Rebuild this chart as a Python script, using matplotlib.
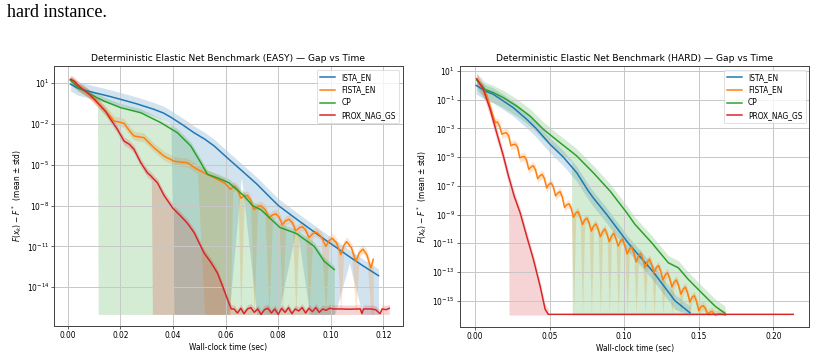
import numpy as np
import matplotlib
matplotlib.use('Agg')
import matplotlib.pyplot as plt

# gap values are log10(F(x_k) - F*)
FLOOR = -16.0
names = ['ISTA_EN', 'FISTA_EN', 'CP', 'PROX_NAG_GS']
colors = ['C0', 'C1', 'C2', 'C3']

# ---------------- EASY instance ----------------
easy_ista_t = [0.0011, 0.004, 0.0075, 0.012, 0.016, 0.020, 0.026, 0.0328, 0.0365, 0.0392,
               0.0404, 0.044, 0.048, 0.052, 0.0557, 0.0613, 0.066, 0.0718, 0.0772, 0.0801,
               0.087, 0.092, 0.097, 0.1015, 0.107, 0.112, 0.1181]
easy_ista_m = [0.93, 0.62, 0.43, 0.22, 0.03, -0.18, -0.5, -0.92, -1.2, -1.5,
               -1.65, -2.1, -2.64, -3.1, -3.62, -4.6, -5.4, -6.4, -7.45, -8.0,
               -9.0, -9.7, -10.4, -11.0, -11.75, -12.4, -13.15]
easy_ista_floor = [(0.0404, 0.0613), (0.0718, 0.0801), (0.092, 0.1015), (0.112, 0.1181)]

easy_fista_t = [0.0014, 0.004, 0.0075, 0.011, 0.0138, 0.0165, 0.0176, 0.0195, 0.0214, 0.0235,
                0.0252, 0.0272, 0.029, 0.031, 0.0328, 0.0366, 0.0404, 0.043, 0.0455, 0.0493,
                0.052, 0.0544, 0.0582, 0.0600,
                0.0618, 0.0627, 0.0636, 0.0647, 0.0658, 0.0670, 0.0683, 0.0695, 0.0708, 0.0721,
                0.0734, 0.0750, 0.0765, 0.0778, 0.0791, 0.0803, 0.0816, 0.0828, 0.0841, 0.0854,
                0.0867, 0.0879, 0.0892, 0.0904, 0.0917, 0.0931, 0.0945, 0.0963, 0.0981, 0.0993,
                0.1006, 0.1022, 0.1038, 0.1049, 0.1060, 0.1078, 0.1095, 0.1108, 0.1122, 0.1137,
                0.1152, 0.1161]
easy_fista_m = [1.17, 0.75, 0.31, -0.4, -0.92, -1.5, -1.78, -1.85, -1.95, -2.5,
                -2.88, -2.95, -3.0, -3.4, -3.74, -4.36, -4.73, -4.8, -4.85, -5.34,
                -5.6, -5.83, -6.2, -6.4,
                -6.8, -6.66, -6.6, -6.86, -7.45, -7.31, -7.25, -7.57, -8.3, -8.09,
                -8.0, -8.27, -8.9, -8.69, -8.6, -8.84, -9.4, -9.12, -9.0, -9.26,
                -9.85, -9.64, -9.55, -9.79, -10.35, -10.07, -9.95, -10.27, -11.0, -10.58,
                -10.4, -10.76, -11.6, -10.94, -10.65, -11.09, -12.1, -11.47, -11.2, -11.62,
                -12.6, -11.95]
easy_fista_floor = [(0.052, 0.0618), (0.0658, 0.0658), (0.0708, 0.0708), (0.0765, 0.0765),
                    (0.0816, 0.0816), (0.0867, 0.0867), (0.0917, 0.0917), (0.0981, 0.0981),
                    (0.1038, 0.1038), (0.1095, 0.1095), (0.1152, 0.1161)]

easy_cp_t = [0.0009, 0.004, 0.0075, 0.0113, 0.0116, 0.0138, 0.0202, 0.0278, 0.0354, 0.0417,
             0.0468, 0.0506, 0.0531, 0.0569, 0.0613, 0.0671, 0.0702, 0.0734, 0.0806, 0.0869,
             0.0937, 0.0975, 0.1013]
easy_cp_m = [1.24, 0.7, 0.31, -0.08, -0.1, -0.31, -0.8, -1.17, -1.9, -2.64,
             -3.62, -4.85, -5.7, -5.96, -6.32, -7.3, -8.0, -8.3, -9.6, -10.05,
             -11.0, -12.1, -12.7]
easy_cp_floor = [(0.0116, 0.1013)]

easy_prox_t = [0.0011, 0.0025, 0.0045, 0.0075, 0.0100, 0.0125, 0.0145, 0.0163, 0.0189, 0.0214,
               0.0235, 0.0252, 0.0278, 0.0303, 0.0318, 0.0322, 0.0341, 0.0366, 0.040, 0.043,
               0.0455, 0.0481, 0.0518, 0.0545, 0.0569, 0.059, 0.0613, 0.0622,
               0.0632, 0.0645, 0.0658, 0.0670, 0.0683, 0.0696, 0.0709, 0.0722, 0.0735, 0.0748,
               0.0761, 0.0774, 0.0787, 0.0800, 0.0813, 0.0826, 0.0839, 0.0852, 0.0865, 0.0878,
               0.0891, 0.0904, 0.0917, 0.0930, 0.0943, 0.0956, 0.0969, 0.0982, 0.0995, 0.1010,
               0.1040, 0.1070, 0.1100, 0.1112, 0.1118, 0.1124, 0.1150, 0.1170, 0.1187, 0.1195,
               0.1210, 0.1222]
easy_prox_m = [1.3, 1.15, 0.75, 0.31, -0.15, -0.67, -1.1, -1.65, -2.39, -3.25,
               -3.5, -3.86, -4.85, -5.59, -5.85, -5.95, -6.32, -7.25, -8.2, -8.78,
               -9.3, -10.0, -11.48, -12.2, -12.96, -14.0, -15.2, -15.6,
               -15.6, -15.9, -15.55, -15.95, -15.6, -15.5, -15.85, -15.6, -16.0, -15.65,
               -15.55, -15.9, -15.6, -16.0, -15.55, -15.85, -15.5, -15.95, -15.6, -15.75,
               -15.5, -15.9, -15.55, -15.8, -15.5, -15.85, -15.6, -15.7, -15.55, -15.6,
               -15.6, -15.62, -15.6, -15.6, -15.95, -15.6, -15.6, -15.65, -15.95, -15.6,
               -15.65, -15.55]
easy_prox_floor = [(0.0322, 0.1222)]

easy_up = [0.5, 0.35, 0.3, 0.3]
easy_down = [0.5, 0.3, 0.3, 0.3]

# ---------------- HARD instance ----------------
hard_ista_t = [0.0007, 0.0067, 0.0123, 0.019, 0.0257, 0.0347, 0.0409, 0.0503, 0.0592, 0.0682,
               0.0759, 0.079, 0.0883, 0.1028, 0.1195, 0.134, 0.1441]
hard_ista_m = [0.0, -0.39, -0.63, -1.09, -1.56, -2.37, -3.0, -4.11, -5.0, -6.09,
               -7.35, -7.8, -9.0, -11.0, -13.0, -15.0, -15.84]
hard_ista_floor = []

hard_fista_t = [0.0016, 0.0045, 0.0078, 0.0105, 0.0125, 0.0138, 0.0150, 0.0165,
                0.0180, 0.0195, 0.0210, 0.0225, 0.0240, 0.0255, 0.0270, 0.0285, 0.0300, 0.0315,
                0.0330, 0.0345, 0.0360, 0.0375, 0.0390, 0.0405, 0.0420, 0.0435, 0.0450, 0.0465,
                0.0480, 0.0495, 0.0510, 0.0525, 0.0540, 0.0555, 0.0570, 0.0585, 0.0600, 0.0615,
                0.0630, 0.0645, 0.0660, 0.0675, 0.0690, 0.0705, 0.0720, 0.0735, 0.0750, 0.0765,
                0.0780, 0.0795, 0.0810, 0.0825, 0.0840, 0.0855, 0.0870, 0.0885, 0.0900, 0.0915,
                0.0930, 0.0945, 0.0960, 0.0975, 0.0990, 0.1005, 0.1020, 0.1035, 0.1050, 0.1065,
                0.1080, 0.1095, 0.1110, 0.1125, 0.1140, 0.1155, 0.1170, 0.1185, 0.1200, 0.1215,
                0.1230, 0.1245, 0.1260, 0.1275, 0.1290, 0.1305, 0.1320, 0.1335, 0.1350, 0.1365,
                0.1380, 0.1395, 0.1410, 0.1425, 0.1440, 0.1455, 0.1470, 0.1485, 0.1500, 0.1515,
                0.1530, 0.1545, 0.1560, 0.1575, 0.1590, 0.1610, 0.1640, 0.1680]
hard_fista_m = [0.37, -0.1, -0.7, -1.6, -2.3, -2.6, -2.55, -2.85,
                -3.4, -3.33, -3.3, -3.5, -4.2, -4.13, -4.1, -4.3, -5.05, -4.98,
                -4.95, -5.2, -5.85, -5.69, -5.6, -5.87, -6.5, -6.3, -6.2, -6.49,
                -7.15, -6.9, -6.8, -7.07, -7.7, -7.5, -7.4, -7.77, -8.5, -8.32,
                -8.25, -8.57, -9.2, -8.9, -8.8, -9.17, -9.7, -9.37, -9.25, -9.6,
                -10.15, -9.8, -9.65, -10.0, -10.55, -10.2, -10.0, -10.36, -10.9, -10.5,
                -10.3, -10.7, -11.2, -10.85, -10.7, -11.2, -11.75, -11.4, -11.25, -11.7,
                -12.3, -11.9, -11.7, -12.1, -12.7, -12.3, -12.1, -12.5, -13.05, -12.7,
                -12.55, -12.95, -13.55, -13.2, -13.05, -13.45, -14.05, -13.7, -13.55, -13.95,
                -14.55, -14.2, -14.05, -14.45, -15.1, -14.75, -14.65, -15.05, -15.7, -15.42,
                -15.35, -15.55, -15.95, -15.8, -15.75, -16.0, -15.9, -16.0]
hard_fista_floor = [(0.066, 0.066), (0.072, 0.072), (0.078, 0.078), (0.084, 0.084),
                    (0.090, 0.090), (0.096, 0.096), (0.102, 0.102), (0.108, 0.108),
                    (0.114, 0.114), (0.120, 0.120), (0.126, 0.126), (0.132, 0.132),
                    (0.138, 0.138), (0.144, 0.144), (0.150, 0.150), (0.156, 0.168)]

hard_cp_t = [0.0011, 0.0067, 0.0123, 0.019, 0.0279, 0.0369, 0.0458, 0.057, 0.0646, 0.0652,
             0.0682, 0.0793, 0.0905, 0.1017, 0.1072, 0.1184, 0.1296, 0.1363, 0.143, 0.1519,
             0.1609, 0.1676]
hard_cp_m = [0.37, -0.28, -0.51, -0.86, -1.44, -2.14, -3.06, -4.0, -4.62, -4.67,
             -4.92, -6.09, -7.36, -8.87, -9.68, -10.96, -12.36, -12.71, -13.52, -14.45,
             -15.38, -15.88]
hard_cp_floor = [(0.0652, 0.1676)]

hard_prox_t = [0.0011, 0.0056, 0.0101, 0.0145, 0.019, 0.0224, 0.0228, 0.0262, 0.0302, 0.0346,
               0.0391, 0.0436, 0.047, 0.0491, 0.08, 0.12, 0.16, 0.2133]
hard_prox_m = [0.47, -0.28, -1.67, -3.3, -4.92, -6.32, -6.45, -7.71, -8.87, -10.5,
               -12.12, -13.98, -15.6, -15.95, -15.95, -15.95, -15.95, -15.95]
hard_prox_floor = [(0.0228, 0.0491)]
hard_prox_band_end = 0.0491

hard_up = [0.45, 0.3, 0.5, 0.35]
hard_down = [0.6, 0.3, 0.7, 0.5]


def draw_run(ax, t, m, up, down, floor_spans, color, label, band_end=None):
    t = np.asarray(t, dtype=float)
    m = np.asarray(m, dtype=float)
    lo = m - down
    for a, b in floor_spans:
        lo[(t >= a - 1e-9) & (t <= b + 1e-9)] = FLOOR
    lo = np.maximum(lo, FLOOR)
    hi = m + up
    keep = t <= (band_end if band_end is not None else t.max()) + 1e-9
    ax.fill_between(t[keep], 10.0 ** lo[keep], 10.0 ** hi[keep],
                    color=color, alpha=0.2, linewidth=0)
    ax.plot(t, 10.0 ** m, color=color, label=label, linewidth=2.0)


fig = plt.figure(figsize=(15, 6.5625), dpi=54.4)
fig.text(0.0085, 1 - 17.3 / 357, 'hard instance.', family='Liberation Serif',
         fontsize=23.8, va='baseline')

ax1 = fig.add_axes([0.0665, 0.0877, 0.4270, 0.7275])
ax2 = fig.add_axes([0.5637, 0.0849, 0.4281, 0.7303])

easy = [(easy_ista_t, easy_ista_m, easy_ista_floor),
        (easy_fista_t, easy_fista_m, easy_fista_floor),
        (easy_cp_t, easy_cp_m, easy_cp_floor),
        (easy_prox_t, easy_prox_m, easy_prox_floor)]
hard = [(hard_ista_t, hard_ista_m, hard_ista_floor),
        (hard_fista_t, hard_fista_m, hard_fista_floor),
        (hard_cp_t, hard_cp_m, hard_cp_floor),
        (hard_prox_t, hard_prox_m, hard_prox_floor)]

for ax in (ax1, ax2):
    ax.set_yscale('log')

for i, (t, m, fl) in enumerate(easy):
    draw_run(ax1, t, m, easy_up[i], easy_down[i], fl, colors[i], names[i])
for i, (t, m, fl) in enumerate(hard):
    end = hard_prox_band_end if names[i] == 'PROX_NAG_GS' else None
    draw_run(ax2, t, m, hard_up[i], hard_down[i], fl, colors[i], names[i], band_end=end)

ax1.set_xlim(-0.0051, 0.1273)
ax1.set_ylim(10 ** -16.83, 10 ** 2.27)
ax1.set_xticks([0.0, 0.02, 0.04, 0.06, 0.08, 0.10, 0.12])
ax1.set_yticks([10.0 ** k for k in range(1, -15, -3)])
ax1.set_title('Deterministic Elastic Net Benchmark (EASY) — Gap vs Time')

ax2.set_xlim(-0.0101, 0.2241)
ax2.set_ylim(10 ** -16.81, 10 ** 1.35)
ax2.set_xticks([0.0, 0.05, 0.10, 0.15, 0.20])
ax2.set_yticks([10.0 ** k for k in range(1, -16, -2)])
ax2.set_title('Deterministic Elastic Net Benchmark (HARD) — Gap vs Time')

for ax in (ax1, ax2):
    ax.yaxis.set_minor_locator(matplotlib.ticker.NullLocator())
    ax.set_xlabel('Wall-clock time (sec)')
    ax.set_ylabel(r'$F(x_k) - F^*$  (mean ± std)')
    ax.grid(True, linewidth=1.3, color='#c8c8c8')
    for s in ax.spines.values():
        s.set_linewidth(1.3)
        s.set_color('#444444')
    ax.legend(loc='upper right')

fig.savefig('out.png', dpi=54.4)
